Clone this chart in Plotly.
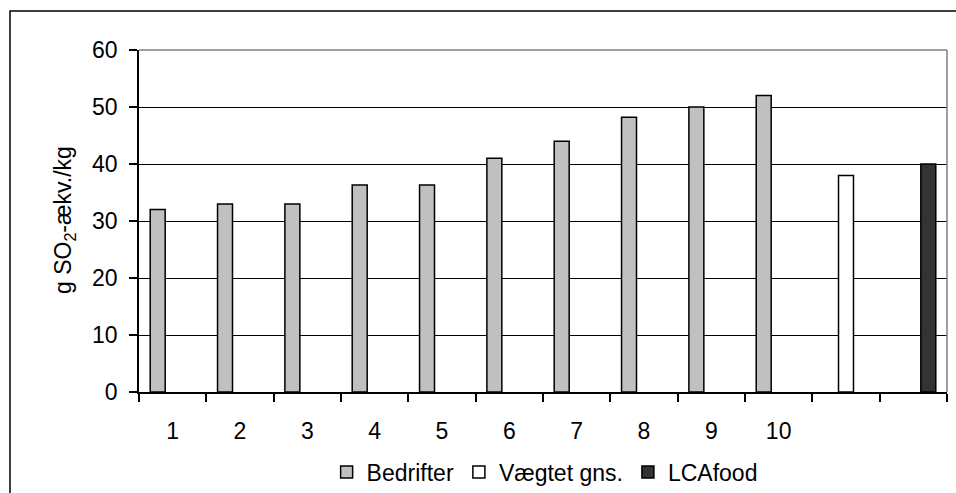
import plotly.graph_objects as go

categories = ["1", "2", "3", "4", "5", "6", "7", "8", "9", "10", " ", "  "]
bedrifter = [32, 33, 33, 36.3, 36.3, 41, 44, 48.2, 50, 52, None, None]
vaegtet = [None] * 10 + [38, None]
lcafood = [None] * 11 + [40]
series_names = ["Bedrifter", "Vægtet gns.", "LCAfood"]
y_title = "g SO<sub>2</sub>-ækv./kg"

FONT = "Liberation Sans, Arial, sans-serif"
FS = 23
W, H = 956, 493
ML, MR, MT, MB = 139, 9, 50, 101
PW, PH = W - ML - MR, H - MT - MB

def px_x(x):
    return (x - ML) / PW

def px_y(y):
    return (H - MB - y) / PH

fig = go.Figure()
for name, vals, col in zip(series_names, [bedrifter, vaegtet, lcafood],
                           ["#C0C0C0", "#FFFFFF", "#333333"]):
    fig.add_trace(go.Bar(x=categories, y=vals, name=name,
                         marker=dict(color=col, line=dict(color="#000000", width=1.5))))

fig.update_layout(
    width=W, height=H,
    margin=dict(l=ML, r=MR, t=MT, b=MB, autoexpand=False),
    paper_bgcolor="white", plot_bgcolor="white",
    barmode="group", bargap=0.333, bargroupgap=0,
    font=dict(family=FONT, size=FS, color="#000000"),
    legend=dict(orientation="h", x=0.502, xanchor="center",
                yref="container", y=(H - 472) / H, yanchor="middle",
                font=dict(size=FS), itemwidth=30, tracegroupgap=0),
    showlegend=True,
)
fig.update_xaxes(type="category", tickson="boundaries", ticks="outside", ticklen=8,
                 tickcolor="#000000", tickwidth=1.5, showline=True, linecolor="#000000",
                 linewidth=1.5, showgrid=False, ticklabelstandoff=18, automargin=False,
                 tickfont=dict(size=FS))
fig.update_yaxes(range=[0, 60], dtick=10, ticks="outside", ticklen=8, tickcolor="#000000",
                 tickwidth=1.5, showline=True, linecolor="#000000", linewidth=1.5,
                 showgrid=True, gridcolor="#000000", gridwidth=1, zeroline=False,
                 ticklabelstandoff=7, automargin=False, tickfont=dict(size=FS))

# plot-area border (top/right grey)
fig.add_shape(type="line", xref="paper", yref="paper", x0=0, x1=1, y0=1, y1=1,
              line=dict(color="#808080", width=1.5), layer="above")
fig.add_shape(type="line", xref="paper", yref="paper", x0=1, x1=1, y0=0, y1=1,
              line=dict(color="#808080", width=1.5), layer="above")
# outer chart border
fig.add_shape(type="rect", xref="paper", yref="paper", x0=px_x(10), x1=px_x(W + 20),
              y0=px_y(H + 20), y1=px_y(11), line=dict(color="#000000", width=1.5))

fig.add_annotation(text=y_title, xref="paper", yref="paper", x=px_x(64), y=px_y(220),
                   xanchor="center", yanchor="middle", textangle=-90, showarrow=False,
                   font=dict(size=FS, family=FONT))

fig.write_html("out.html")
